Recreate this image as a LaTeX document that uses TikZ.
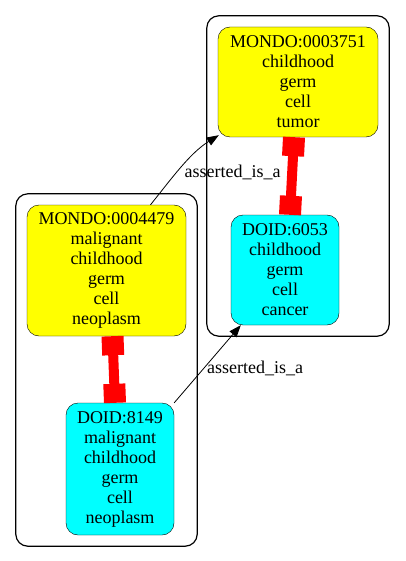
\documentclass[tikz,border=0pt]{standalone}
\usepackage{fontspec}
\setmainfont{Liberation Serif}
\usetikzlibrary{positioning,fit,arrows.meta}
\definecolor{termyellow}{RGB}{255,255,0}
\definecolor{termcyan}{RGB}{0,255,255}
\definecolor{equivred}{RGB}{255,0,0}
\tikzset{
 term/.style
  = {rectangle, draw, rounded corners=12pt, align=center, inner sep=0pt,
     font=\fontsize{18}{20}\selectfont},
 mondo/.style
  = {term, fill=termyellow},
 doid/.style
  = {term, fill=termcyan},
 grp/.style
  = {draw, rounded corners=12pt, inner sep=11pt, line width=1.2pt},
 isa/.style
  = {draw, line width=0.8pt, -{Triangle[length=12pt,width=9pt]}},
 equiv/.style
  = {draw=equivred, line width=10pt,
     {Rectangle[length=19pt,width=22pt]}-{Rectangle[length=19pt,width=22pt]}},
}

\begin{document}
\begin{tikzpicture}[x=1pt,y=-1pt]
\useasboundingbox (0,0) rectangle (405,561);

% Right group
\node[mondo, minimum width=160pt, minimum height=110pt] (m3751) at (298,82)
  {MONDO:0003751\\childhood\\germ\\cell\\tumor};
\node[doid, minimum width=108pt, minimum height=110pt] (d6053) at (285,270)
  {DOID:6053\\childhood\\germ\\cell\\cancer};
\node[grp, fit=(m3751) (d6053)] (right) {};

% Left group
\node[mondo, minimum width=159pt, minimum height=131pt] (m4479) at (106.5,270.5)
  {MONDO:0004479\\malignant\\childhood\\germ\\cell\\neoplasm};
\node[doid, minimum width=108pt, minimum height=132pt] (d8149) at (120,469)
  {DOID:8149\\malignant\\childhood\\germ\\cell\\neoplasm};
\node[grp, fit=(m4479) (d8149)] (left) {};

% Equivalences
\draw[equiv] ([xshift=-4pt]m3751.south) -- ([xshift=5pt]d6053.north);
\draw[equiv] ([xshift=6pt]m4479.south) -- ([xshift=-5pt]d8149.north);

% is_a links
\draw[isa] ([xshift=44pt]m4479.north) .. controls (172,178) and (190,153) ..
  ([shift={(1,-2)}]m3751.south west)
  node[pos=0.42, right=4pt, font=\fontsize{18}{20}\selectfont] (l1) {asserted\_is\_a};
\draw[isa] (d8149.north east) -- ([xshift=10pt]d6053.south west)
  node[pos=0.44, right, font=\fontsize{18}{20}\selectfont] (l2) {asserted\_is\_a};

\end{tikzpicture}
\end{document}
